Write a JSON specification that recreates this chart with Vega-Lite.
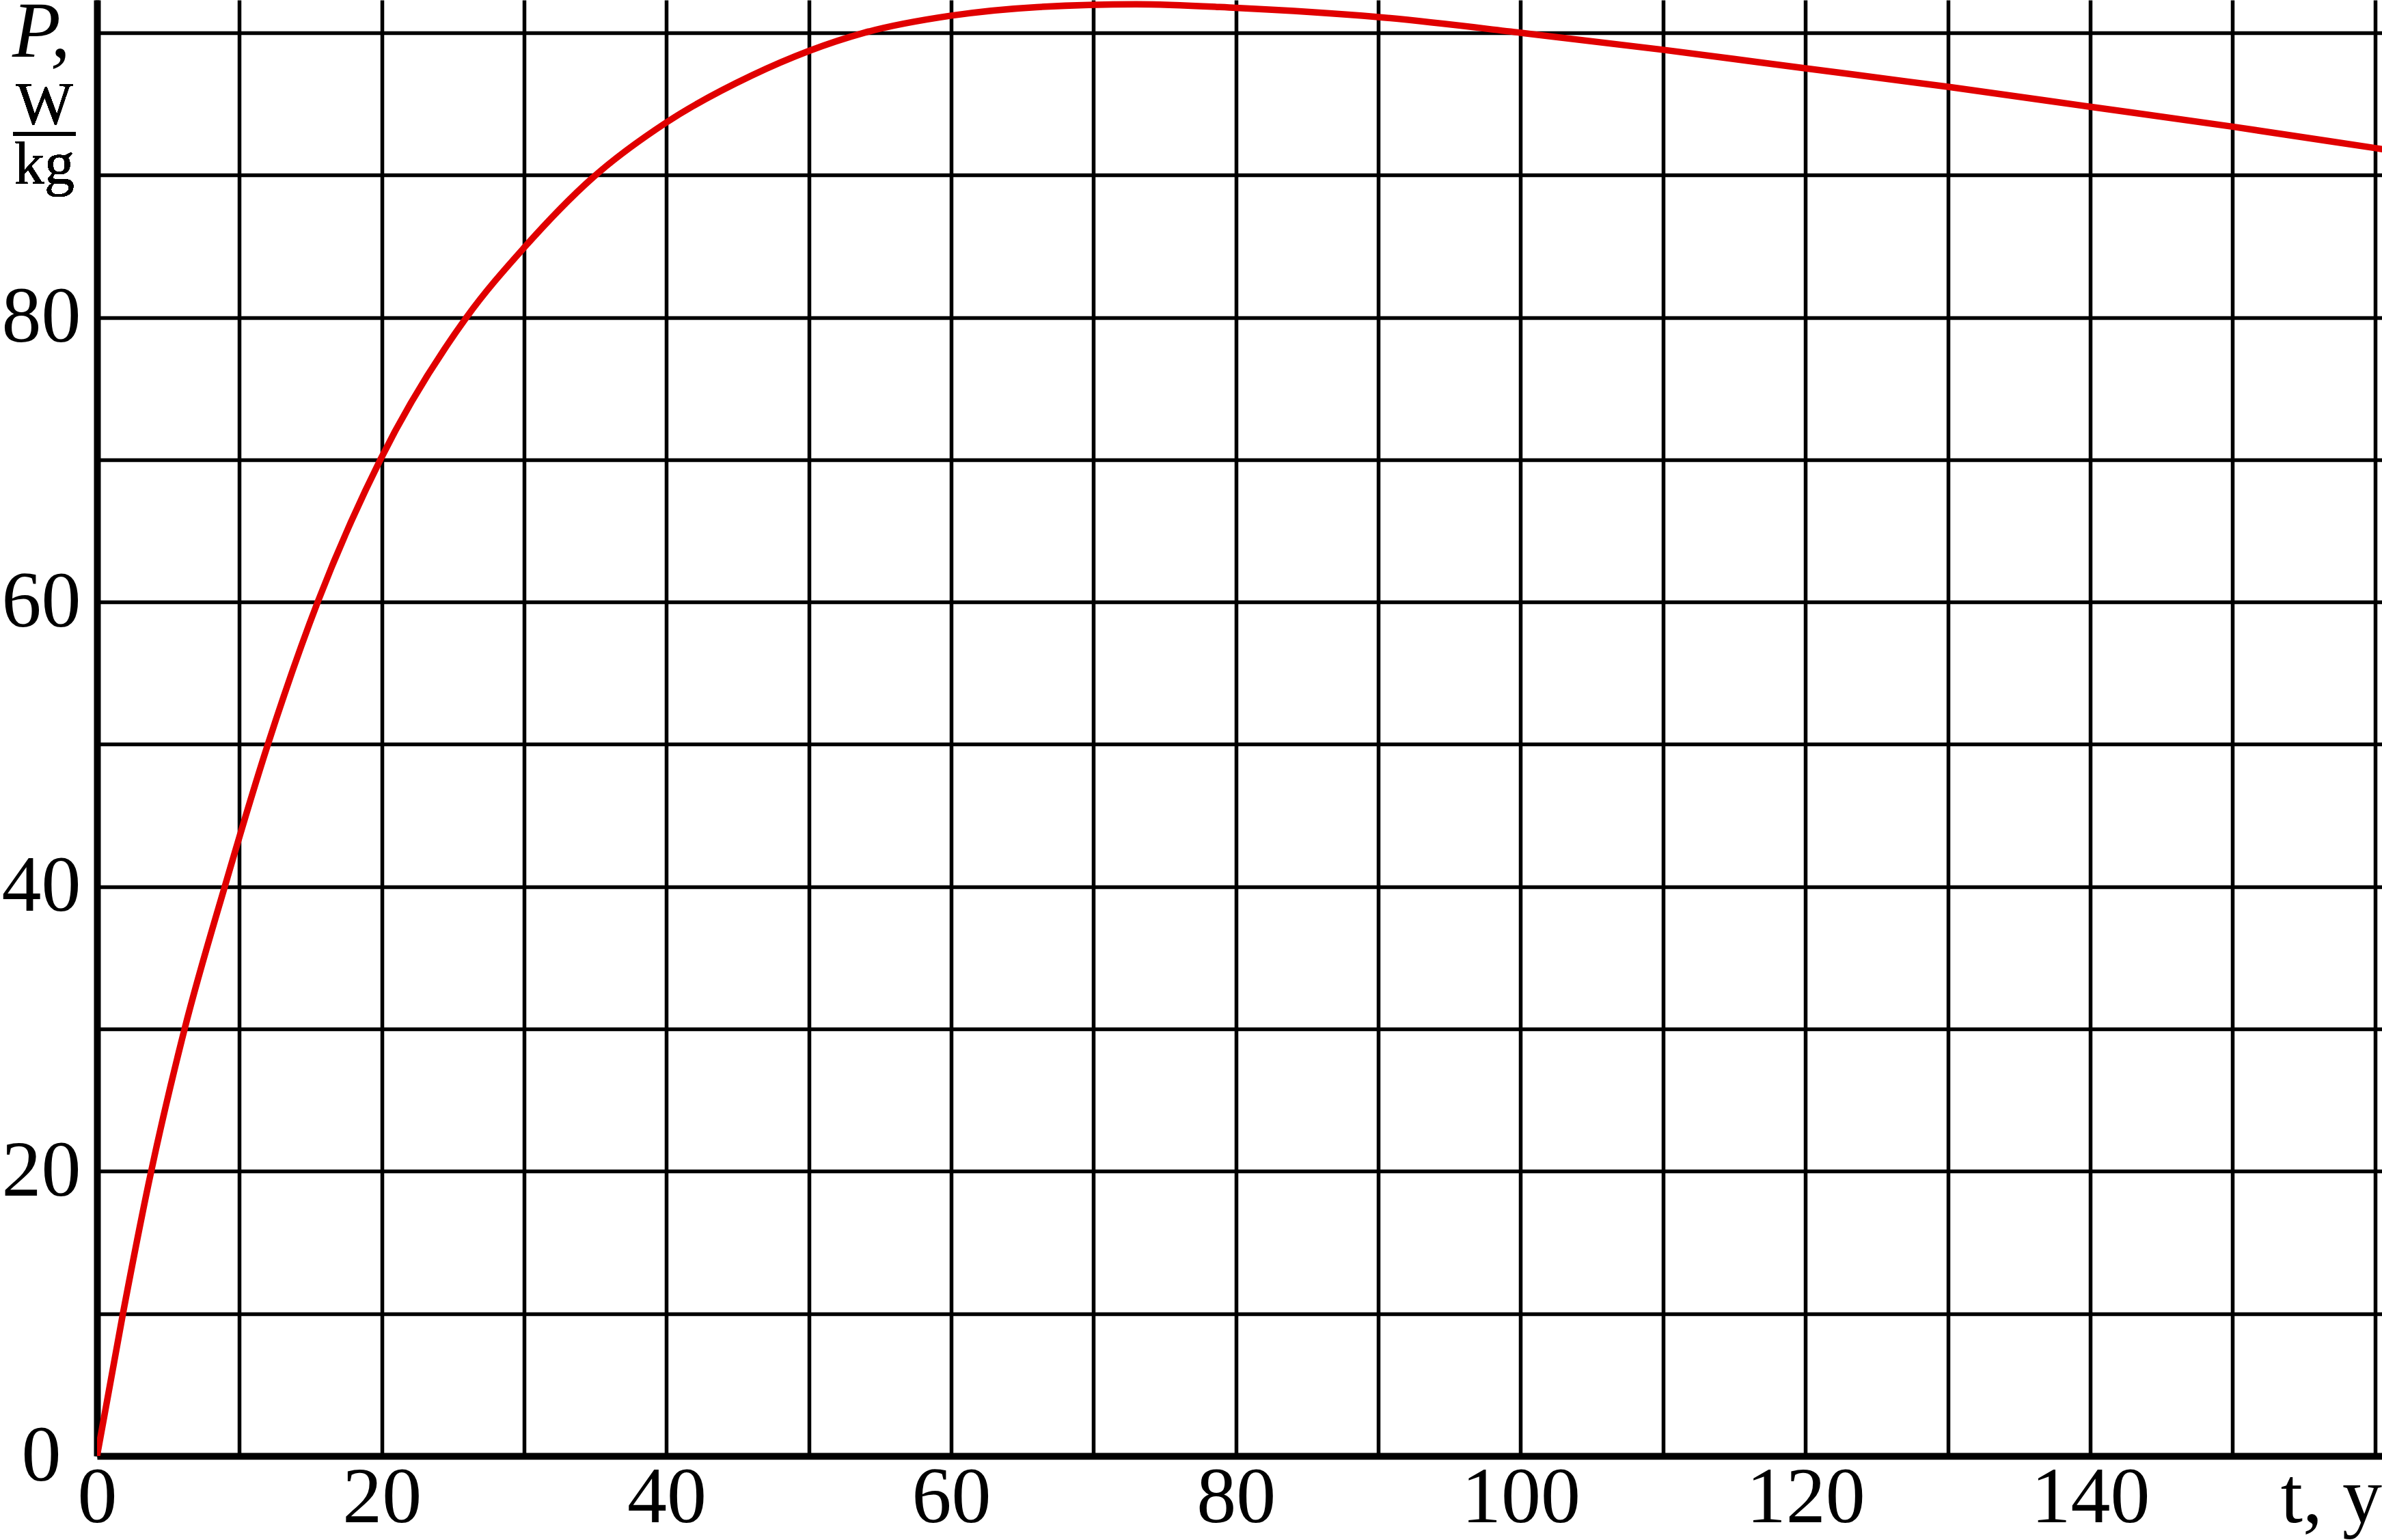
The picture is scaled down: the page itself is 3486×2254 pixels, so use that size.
{
  "$schema": "https://vega.github.io/schema/vega-lite/v6.json",
  "width": 3344,
  "height": 2131,
  "autosize": {"type": "none"},
  "padding": {"left": 142, "top": 0, "right": 0, "bottom": 123},
  "background": "white",
  "config": {"view": {"stroke": null}, "font": "Liberation Serif"},
  "data": {
    "values": [
      {"t": 0, "P": 0}, {"t": 1.82, "P": 10}, {"t": 3.74, "P": 19.7}, {"t": 6.15, "P": 30},
      {"t": 9.03, "P": 40.2}, {"t": 12, "P": 50}, {"t": 15.5, "P": 60}, {"t": 19.9, "P": 70},
      {"t": 25.95, "P": 80}, {"t": 30, "P": 84.9}, {"t": 34.8, "P": 89.8}, {"t": 40, "P": 93.7},
      {"t": 46, "P": 97.0}, {"t": 53.9, "P": 100}, {"t": 60, "P": 101.2}, {"t": 66, "P": 101.8},
      {"t": 73, "P": 102.0}, {"t": 80, "P": 101.75}, {"t": 90, "P": 101.1}, {"t": 100, "P": 100.0},
      {"t": 110, "P": 98.8}, {"t": 120, "P": 97.5}, {"t": 130, "P": 96.2}, {"t": 140, "P": 94.8},
      {"t": 150, "P": 93.4}, {"t": 160, "P": 91.9}, {"t": 161, "P": 91.75}
    ]
  },
  "layer": [
    {
      "mark": {"type": "line", "color": "#e00000", "strokeWidth": 9.5, "interpolate": "monotone", "clip": true},
      "encoding": {
        "x": {
          "field": "t", "type": "quantitative",
          "scale": {"domain": [0, 160.5], "nice": false, "zero": false},
          "axis": {
            "title": null,
            "values": [0, 10, 20, 30, 40, 50, 60, 70, 80, 90, 100, 110, 120, 130, 140, 150, 160],
            "labelExpr": "datum.value == 160 ? 't, y' : (datum.value % 20 == 0 ? datum.label : '')",
            "grid": true, "gridColor": "black", "gridWidth": 5.5, "gridOpacity": 1,
            "domain": true, "domainColor": "black", "domainWidth": 10,
            "ticks": false, "tickSize": 0,
            "labelFont": "Liberation Serif", "labelFontSize": 116, "labelColor": "black",
            "labelPadding": 4, "labelBaseline": "top", "labelLimit": 0,
            "labelAlign": {"condition": {"test": "datum.value == 160", "value": "right"}, "value": "center"},
            "labelOffset": {"condition": {"test": "datum.value == 160", "value": 10}, "value": 0},
            "labelOverlap": false, "labelFlush": false, "labelBound": false
          }
        },
        "y": {
          "field": "P", "type": "quantitative",
          "scale": {"domain": [0, 102.3], "nice": false},
          "axis": {
            "title": null,
            "values": [0, 10, 20, 30, 40, 50, 60, 70, 80, 90, 100],
            "labelExpr": "datum.value == 100 ? 'P,' : (datum.value % 20 == 0 ? datum.label : '')",
            "grid": true, "gridColor": "black", "gridWidth": 5.5, "gridOpacity": 1,
            "domain": true, "domainColor": "black", "domainWidth": 10,
            "ticks": false, "tickSize": 0,
            "labelFont": "Liberation Serif", "labelFontSize": 116, "labelColor": "black", "labelLimit": 0,
            "labelFontStyle": {"condition": {"test": "datum.value == 100", "value": "italic"}, "value": "normal"},
            "labelPadding": 82, "labelAlign": "center", "labelBaseline": "middle",
            "labelOverlap": false, "labelFlush": false, "labelBound": false
          }
        }
      }
    },
    {
      "mark": {"type": "text", "font": "Liberation Serif", "fontSize": 88, "align": "center", "baseline": "alphabetic", "color": "black"},
      "encoding": {
        "x": {"datum": -3.7, "type": "quantitative"},
        "y": {"datum": 93.6, "type": "quantitative"},
        "text": {"value": "W"}
      }
    },
    {
      "mark": {"type": "text", "font": "Liberation Serif", "fontSize": 88, "align": "center", "baseline": "alphabetic", "color": "black"},
      "encoding": {
        "x": {"datum": -3.7, "type": "quantitative"},
        "y": {"datum": 89.4, "type": "quantitative"},
        "text": {"value": "kg"}
      }
    },
    {
      "mark": {"type": "rule", "color": "black", "strokeWidth": 5},
      "encoding": {
        "x": {"datum": -5.9, "type": "quantitative"},
        "x2": {"datum": -1.5},
        "y": {"datum": 92.9, "type": "quantitative"}
      }
    }
  ]
}
